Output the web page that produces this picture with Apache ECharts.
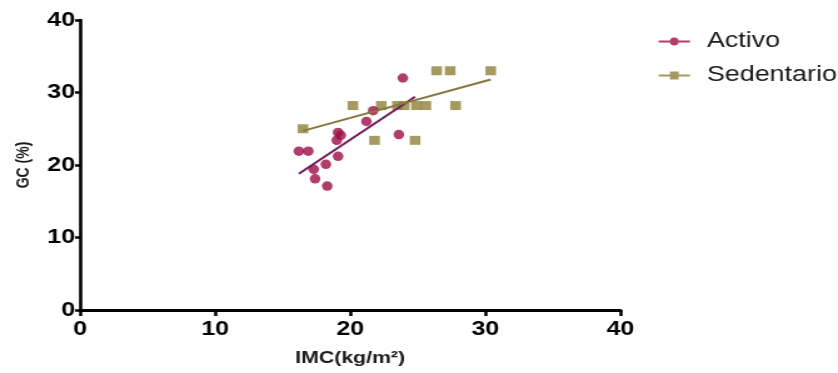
<!DOCTYPE html>
<html>
<head>
<meta charset="utf-8">
<script src="https://cdn.jsdelivr.net/npm/echarts@6/dist/echarts.min.js"></script>
<style>
html,body{margin:0;padding:0;background:#fff;}
#wrap{width:838px;height:373px;overflow:hidden;}
#c{width:670px;height:373px;transform:scaleX(1.2507);transform-origin:0 0;}
</style>
</head>
<body>
<div id="wrap"><div id="c"></div></div>
<script>
// Data
const seriesNames = ['Activo', 'Sedentario'];
const activoX = [16.2, 16.9, 17.3, 17.4, 18.2, 18.3, 19.0, 19.1, 19.3, 19.1, 21.2, 21.7, 23.6, 23.9];
const activoY = [21.9, 21.9, 19.4, 18.1, 20.1, 17.1, 23.4, 24.5, 24.1, 21.2, 26.0, 27.5, 24.2, 32.0];
const sedX = [16.5, 20.2, 21.8, 22.3, 23.5, 24.0, 24.8, 24.9, 25.6, 26.4, 27.4, 27.8, 30.4];
const sedY = [25.0, 28.2, 23.4, 28.2, 28.2, 28.2, 23.4, 28.2, 28.2, 33.0, 33.0, 28.2, 33.0];
const activoLineX = [16.2, 24.8];
const activoLineY = [18.8, 29.4];
const sedLineX = [16.5, 30.4];
const sedLineY = [24.7, 31.8];
const xTicks = [0, 10, 20, 30, 40];
const yTicks = [0, 10, 20, 30, 40];

const zip = (xs, ys) => xs.map((x, i) => [x, ys[i]]);
const cActivo = '#9c0c46';
const cActivoLine = '#74185a';
const cSed = '#8f823a';
const cSedLine = '#85793f';
const font = 'Liberation Sans, Arial, Helvetica, sans-serif';

const iconCircle = 'path://M0,3 L9,3 L9,5 L0,5 Z M16,3 L25,3 L25,5 L16,5 Z M16,4 A3.5,4 0 1,1 9,4 A3.5,4 0 1,1 16,4 Z';
const iconSquare = 'path://M0,3 L9,3 L9,5 L0,5 Z M16,3 L25,3 L25,5 L16,5 Z M9,0 L16,0 L16,8 L9,8 Z';

const chart = echarts.init(document.getElementById('c'));
chart.setOption({
  animation: false,
  backgroundColor: '#fff',
  grid: { left: 64, right: 174, top: 20, bottom: 63 },
  legend: {
    orient: 'vertical',
    left: 521.6,
    top: 25.5,
    itemWidth: 25.3,
    itemHeight: 8,
    itemGap: 12,
    data: [
      { name: seriesNames[0], icon: iconCircle },
      { name: seriesNames[1], icon: iconSquare }
    ],
    textStyle: { fontSize: 21.5, lineHeight: 22, color: '#1a1a1a', fontFamily: font, padding: [0, 0, 0, 8.4] }
  },
  xAxis: {
    type: 'value', min: xTicks[0], max: xTicks[xTicks.length - 1], interval: 10,
    name: 'IMC(kg/m²)', nameLocation: 'middle', nameGap: 40,
    nameTextStyle: { fontSize: 17, fontWeight: 'bold', color: '#1a1a1a', fontFamily: font },
    axisLine: { onZero: false, lineStyle: { color: '#000', width: 3 } },
    axisTick: { show: true, length: 6, lineStyle: { color: '#000', width: 2.5 } },
    axisLabel: { fontSize: 20, fontWeight: 'bold', color: '#000', fontFamily: font, margin: 9 },
    splitLine: { show: false }
  },
  yAxis: {
    type: 'value', min: yTicks[0], max: yTicks[yTicks.length - 1], interval: 10,
    name: 'GC (%)', nameLocation: 'middle', nameGap: 38, nameRotate: 90,
    nameTextStyle: { fontSize: 14, fontWeight: 'bold', color: '#1a1a1a', fontFamily: font },
    axisLine: { show: true, onZero: false, lineStyle: { color: '#000', width: 2.6 } },
    axisTick: { show: true, length: 4, lineStyle: { color: '#000', width: 2.5 } },
    axisLabel: { fontSize: 20, fontWeight: 'bold', color: '#000', fontFamily: font, margin: 4 },
    splitLine: { show: false }
  },
  series: [
    {
      name: seriesNames[0], type: 'scatter', symbol: 'circle', symbolSize: [8.5, 9.5],
      itemStyle: { color: cActivo }, data: zip(activoX, activoY), z: 3
    },
    {
      name: seriesNames[1], type: 'scatter', symbol: 'rect', symbolSize: [8.5, 9],
      itemStyle: { color: cSed }, data: zip(sedX, sedY), z: 2
    },
    {
      name: 'Activo fit', type: 'line', showSymbol: false, symbol: 'none',
      lineStyle: { color: cActivoLine, width: 2 }, data: zip(activoLineX, activoLineY), z: 4
    },
    {
      name: 'Sedentario fit', type: 'line', showSymbol: false, symbol: 'none',
      lineStyle: { color: cSedLine, width: 2 }, data: zip(sedLineX, sedLineY), z: 4
    }
  ]
});
</script>
</body>
</html>
